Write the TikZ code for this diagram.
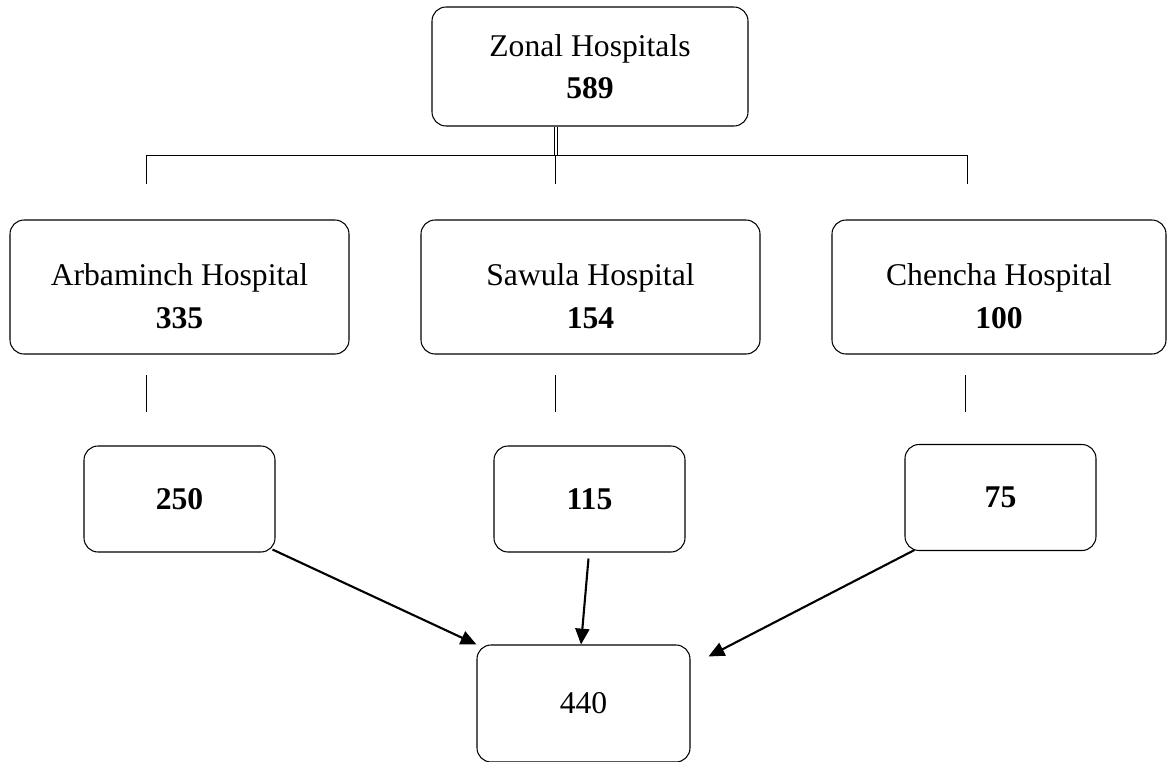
\documentclass[tikz,border=0pt]{standalone}
\usepackage{fontspec}
\setmainfont{Liberation Serif}
\usetikzlibrary{arrows.meta, positioning, calc}

\tikzset{
  hospbox/.style={draw, rounded corners=8pt, line width=0.6pt, align=center, font=\fontsize{18}{24}\selectfont},
  countbox/.style={hospbox, minimum width=3.82cm, minimum height=2.12cm},
  treeline/.style={line width=0.5pt},
  sumarrow/.style={line width=1.2pt, -{Triangle[length=9pt,width=8pt]}}
}
\newcommand{\lowtext}{\rule{0pt}{23pt}}

\begin{document}
\begin{tikzpicture}
  \useasboundingbox (0,0) rectangle (23.34,-15.24);

  % Top box
  \node[hospbox, minimum width=6.32cm, minimum height=2.38cm] (zonal) at (11.8,-1.33) {Zonal Hospitals\\\textbf{589}};

  % Hospital boxes
  \node[hospbox, minimum width=6.78cm, minimum height=2.68cm] (arba) at (3.59,-5.74) {\lowtext Arbaminch Hospital\\\textbf{335}};
  \node[hospbox, minimum width=6.78cm, minimum height=2.68cm] (sawula) at (11.81,-5.74) {\lowtext Sawula Hospital\\\textbf{154}};
  \node[hospbox, minimum width=6.68cm, minimum height=2.68cm] (chencha) at (19.98,-5.74) {\lowtext Chencha Hospital\\\textbf{100}};

  % Count boxes
  \node[countbox] (arbacnt) at (3.59,-9.98) {\textbf{250}};
  \node[countbox] (sawulacnt) at (11.79,-9.98) {\textbf{115}};
  \node[countbox] (chenchacnt) at (20.01,-9.95) {\textbf{75}};

  % Total box
  \node[hospbox, minimum width=4.26cm, minimum height=2.34cm] (total) at (11.67,-14.07) {440};

  % Tree under the top box
  \coordinate (stem) at (11.12,-3.1);
  \draw[treeline, double, double distance=0.9pt] (zonal.south -| stem) -- (stem);
  \draw[treeline] (2.92,-3.1) -- (19.34,-3.1);
  \foreach \x in {2.92, 11.10, 19.34} {
    \draw[treeline] (\x,-3.1) -- (\x,-3.68);
  }

  % Short lines between hospital and count boxes
  \foreach \x in {2.92, 11.10, 19.30} {
    \draw[treeline] (\x,-7.5) -- (\x,-8.24);
  }

  % Arrows to the total
  \coordinate (rightend) at ($(total.north east)+(0.36,-0.24)$);
  \draw[sumarrow] ($(arbacnt.south east)+(-0.06,0.06)$) -- (total.north west);
  \draw[sumarrow] ($(sawulacnt.south)+(-0.02,-0.12)$) -- ($(total.north)+(-0.05,0)$);
  \draw[sumarrow] ($(chenchacnt.south west)+(0.2,0.02)$) -- (rightend);
\end{tikzpicture}
\end{document}
